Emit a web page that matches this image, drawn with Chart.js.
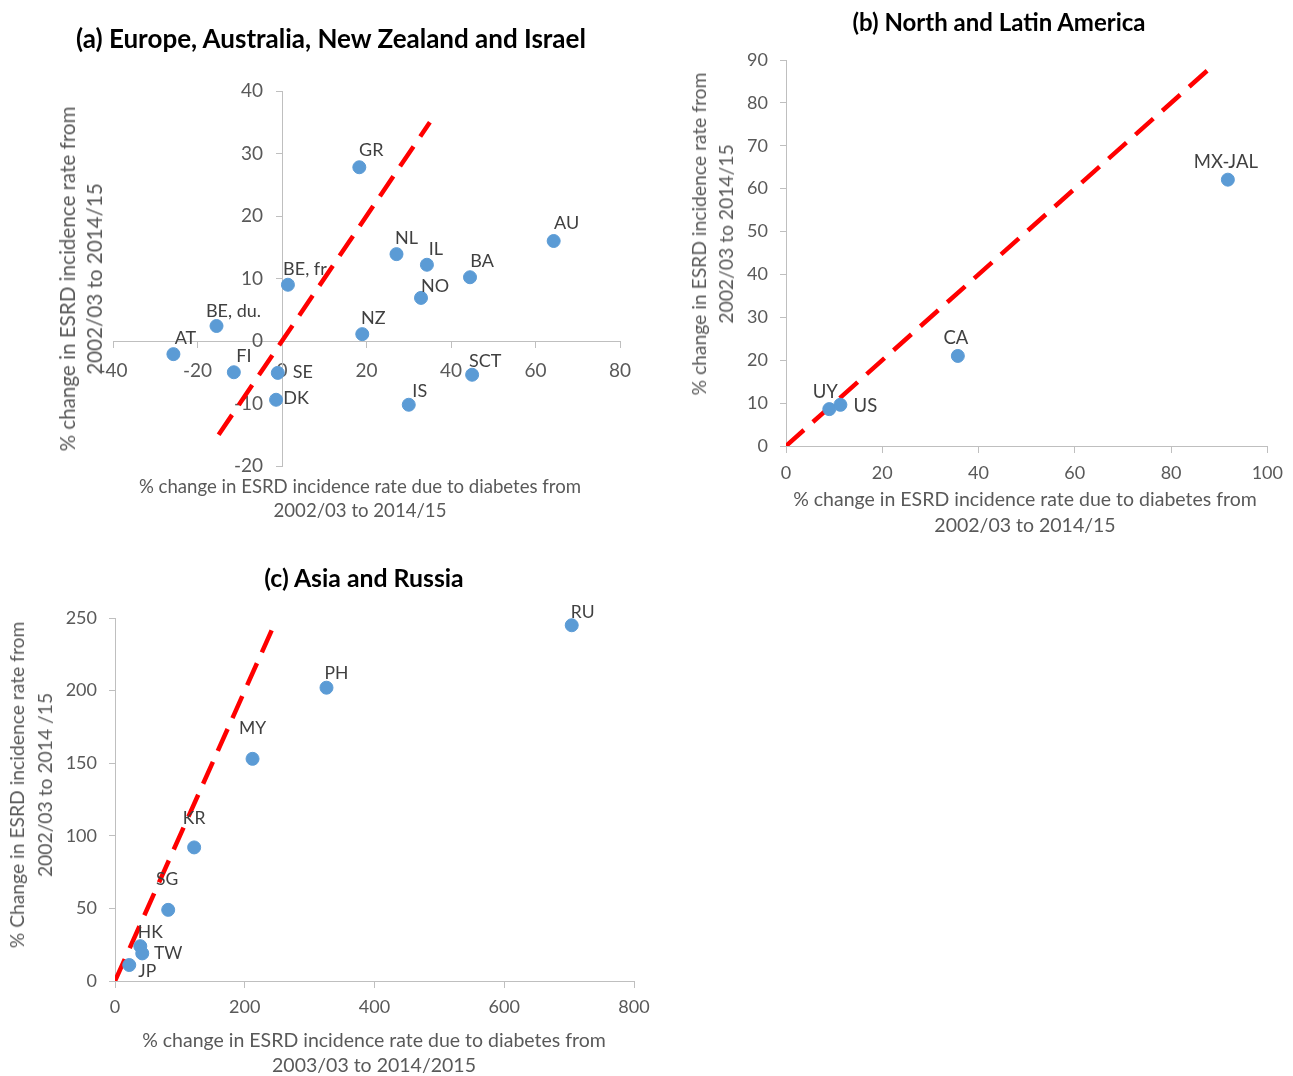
<!DOCTYPE html>
<html>
<head>
<meta charset="utf-8">
<script src="https://cdn.jsdelivr.net/npm/chart.js@4.4.1/dist/chart.umd.min.js"></script>
<style>
  body { margin: 0; background: #fff; }
  #page { position: relative; width: 1293px; height: 1076px; overflow: hidden; }
  #page canvas { position: absolute; left: 0; top: 0; }
  .t { position: absolute; white-space: nowrap; font-family: Lato, sans-serif; transform: translate(-50%, -50%); text-align: center; }
  .ttl { font-weight: bold; color: #000; }
  .ax { color: #595959; }
  .rot { transform: translate(-50%, -50%) rotate(-90deg); }
</style>
</head>
<body>
<div id="page">
  <canvas id="chartA" width="1293" height="1076"></canvas>
  <canvas id="chartB" width="1293" height="1076"></canvas>
  <canvas id="chartC" width="1293" height="1076"></canvas>

  <div class="t ttl" style="left:331px;top:38px;font-size:26px">(a) Europe, Australia, New Zealand and Israel</div>
  <div class="t ax rot" style="left:81px;top:279px;line-height:27px;font-size:20.6px">% change in ESRD incidence rate from<br>2002/03 to 2014/15</div>
  <div class="t ax" style="left:360px;top:498px;line-height:24px;font-size:18.6px">% change in ESRD incidence rate due to diabetes from<br>2002/03 to 2014/15</div>

  <div class="t ttl" style="left:999px;top:21px;font-size:24px">(b) North and Latin America</div>
  <div class="t ax rot" style="left:712px;top:234px;line-height:27px;font-size:19.3px">% change in ESRD incidence rate from<br>2002/03 to 2014/15</div>
  <div class="t ax" style="left:1025px;top:512px;line-height:26px;font-size:19.5px">% change in ESRD incidence rate due to diabetes from<br>2002/03 to 2014/15</div>

  <div class="t ttl" style="left:364px;top:577px;font-size:24.8px">(c) Asia and Russia</div>
  <div class="t ax rot" style="left:31px;top:785px;line-height:28px;font-size:19.3px">% Change in ESRD incidence rate from<br>2002/03 to 2014 /15</div>
  <div class="t ax" style="left:374px;top:1052px;line-height:25px;font-size:19.5px">% change in ESRD incidence rate due to diabetes from<br>2003/03 to 2014/2015</div>
</div>

<script>
// (a) Europe, Australia, New Zealand and Israel
const namesA = ['GR', 'AU', 'NL', 'IL', 'BA', 'NO', 'BE, fr', 'BE, du.', 'NZ', 'AT', 'FI', 'SE', 'DK', 'IS', 'SCT'];
const diabA  = [18.3, 64.3, 27.1, 34.3, 44.5, 32.9, 1.4, -15.5, 19, -25.7, -11.4, -1, -1.4, 30, 45];
const totalA = [27.8, 16, 13.9, 12.2, 10.2, 6.9, 9, 2.4, 1.1, -2.1, -5, -5.1, -9.4, -10.2, -5.4];
const refA = [-15, 35];

// (b) North and Latin America
const namesB = ['MX-JAL', 'CA', 'UY', 'US'];
const diabB  = [91.8, 35.7, 9, 11.3];
const totalB = [62.1, 21, 8.6, 9.6];
const refB = [0, 88];

// (c) Asia and Russia
const namesC = ['RU', 'PH', 'MY', 'KR', 'SG', 'HK', 'TW', 'JP'];
const diabC  = [704, 326, 212, 122, 82, 39, 42, 22];
const totalC = [245, 202, 153, 92, 49, 24, 19, 11];
const refC = [0, 243];

// where each point label sits relative to its marker (style only)
const offA = { 'GR': [12, -17], 'AU': [13, -18], 'NL': [10, -16], 'IL': [9, -16], 'BA': [12, -16],
  'NO': [14, -12], 'BE, fr': [17, -16], 'BE, du.': [17, -15], 'NZ': [11, -16], 'AT': [12, -16],
  'FI': [10, -16], 'SE': [25, -1], 'DK': [20, -2], 'IS': [11, -14], 'SCT': [13, -14] };
const offB = { 'MX-JAL': [-2, -18], 'CA': [-2, -18], 'UY': [-4, -17], 'US': [25, 1] };
const offC = { 'RU': [11, -13], 'PH': [10, -14], 'MY': [0, -30], 'KR': [0, -29], 'SG': [-1, -30],
  'HK': [10, -14], 'TW': [26, 0], 'JP': [18, 6] };

Chart.defaults.font.family = 'Lato, sans-serif';

const pointLabels = {
  id: 'pointLabels',
  afterDatasetsDraw(chart, args, opts) {
    const ctx = chart.ctx;
    const meta = chart.getDatasetMeta(0);
    ctx.save();
    ctx.font = opts.size + 'px Lato, sans-serif';
    ctx.fillStyle = '#404040';
    ctx.textAlign = 'center';
    ctx.textBaseline = 'middle';
    meta.data.forEach((pt, i) => {
      const name = opts.names[i];
      const off = opts.offsets[name] || [0, -16];
      ctx.fillText(name, pt.x + off[0], pt.y + off[1]);
    });
    ctx.restore();
  }
};

function axis(min, max, step, fontSize, pad, where) {
  const a = {
    type: 'linear',
    position: where,
    min: min,
    max: max,
    grid: { drawOnChartArea: false, drawTicks: true, tickLength: 6, color: '#bfbfbf' },
    border: { color: '#bfbfbf', width: 1 },
    ticks: { stepSize: step, color: '#595959', padding: pad, font: { size: fontSize } }
  };
  // an axis placed at a value ignores tick padding on the y side, so pad the label itself
  if (where.x !== undefined) a.ticks.callback = v => v + '\u2003\u2009\u2009';
  return a;
}

function makeChart(id, names, xs, ys, ref, area, xAxis, yAxis, labelSize, offsets) {
  new Chart(document.getElementById(id), {
    type: 'scatter',
    data: {
      datasets: [{
        data: xs.map((x, i) => ({ x: x, y: ys[i] })),
        backgroundColor: '#5b9bd5',
        borderColor: '#5b9bd5',
        pointRadius: 6.5
      }, {
        type: 'line',
        data: ref.map(v => ({ x: v, y: v })),
        borderColor: '#ff0000',
        borderWidth: 4.5,
        borderDash: [24, 12],
        borderCapStyle: 'butt',
        pointRadius: 0,
        fill: false
      }]
    },
    options: {
      responsive: false,
      animation: false,
      layout: { padding: { left: area[0], top: area[1], right: 1293 - area[2], bottom: 1076 - area[3] } },
      plugins: {
        legend: { display: false },
        tooltip: { enabled: false },
        pointLabels: { names: names, offsets: offsets, size: labelSize }
      },
      scales: { x: xAxis, y: yAxis }
    },
    plugins: [pointLabels]
  });
}

makeChart('chartA', namesA, diabA, totalA, refA, [113, 91, 620, 466],
  axis(-40, 80, 20, 19, 12, { y: 0 }), axis(-20, 40, 10, 19, 14, { x: 0 }), 18, offA);
makeChart('chartB', namesB, diabB, totalB, refB, [786, 60, 1274, 446],
  axis(0, 100, 20, 18, 10, { y: 0 }), axis(0, 90, 10, 18, 14, { x: 0 }), 18.5, offB);
makeChart('chartC', namesC, diabC, totalC, refC, [115, 618, 634, 981],
  axis(0, 800, 200, 18, 9, { y: 0 }), axis(0, 250, 50, 18, 14, { x: 0 }), 17.5, offC);
</script>
</body>
</html>
